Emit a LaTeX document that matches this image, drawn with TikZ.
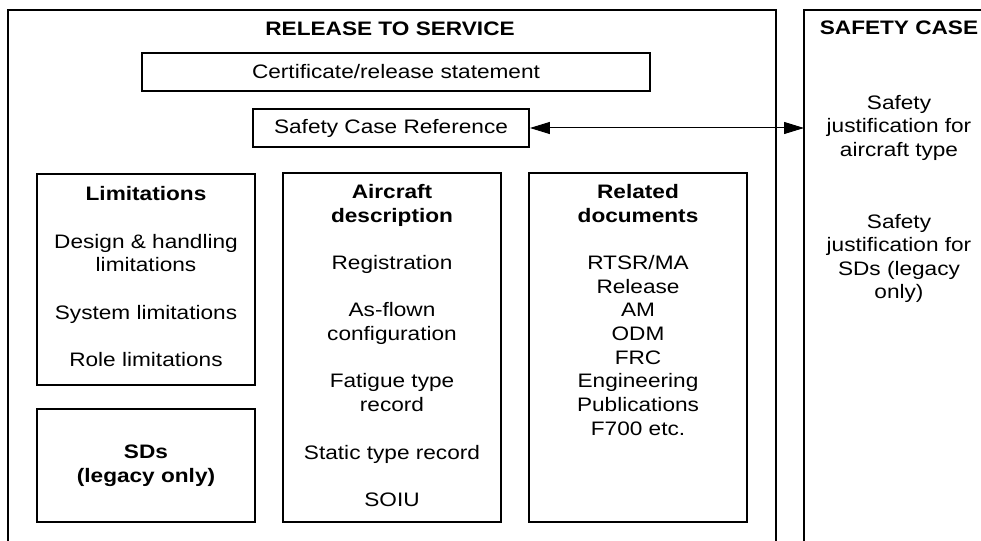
\documentclass[tikz,border=0pt]{standalone}
\usepackage{fontspec}
\setmainfont{Liberation Sans}[FakeStretch=1.16]
\usetikzlibrary{arrows.meta}
\begin{document}
\begin{tikzpicture}[x=1pt,y=-1pt,
  txt/.style={font=\fontsize{19.5}{23.7}\selectfont, align=center, inner sep=0pt},
  head/.style={font=\fontsize{19.5}{23.7}\selectfont\bfseries, inner sep=0pt},
  frame/.style={line width=1.8pt},
  box/.style={draw, line width=1.8pt, inner sep=0pt, rectangle},
  link/.style={line width=1pt, {Triangle[length=20pt,width=12pt]}-{Triangle[length=20pt,width=12pt]}}
]
\useasboundingbox (0,0) rectangle (981,540);

% outer panels, open at the bottom
\draw[frame] (8,548) -- (8,10) -- (776,10) -- (776,548);
\draw[frame] (804,548) -- (804,10) -- (990,10);

\node[head, anchor=base] (rtstitle) at (390,36) {RELEASE TO SERVICE};
\node[head, anchor=base] (sctitle) at (899,34.5) {SAFETY CASE};

% top statement boxes
\node[box, txt, minimum width=508pt, minimum height=37.7pt] (cert) at (396,71.8) {Certificate/release statement};
\node[box, txt, minimum width=276pt, minimum height=37.7pt] (scref) at (391,128) {Safety Case Reference};

% link to the safety case panel
\coordinate (scedge) at (804,128);
\draw[link] (scref.east) -- (scedge);

% limitations
\node[box, minimum width=218pt, minimum height=211pt] (limbox) at (146,279.5) {};
\node[txt, anchor=north] (limtxt) at (146,186.5)
  {\textbf{Limitations}\\[23.7pt]Design \& handling\\limitations\\[23.7pt]System limitations\\[23.7pt]Role limitations};

% SDs
\node[box, minimum width=218pt, minimum height=113pt] (sdbox) at (146,465.5) {};
\node[txt, font=\fontsize{19.5}{24.5}\selectfont\bfseries] (sdtxt) at (146,466) {SDs\\(legacy only)};

% aircraft description
\node[box, minimum width=218pt, minimum height=349pt] (acbox) at (392,347.5) {};
\node[txt, anchor=north] (actxt) at (392,184)
  {\textbf{Aircraft}\\\textbf{description}\\[23.7pt]Registration\\[23.7pt]As-flown\\configuration\\[23.7pt]Fatigue type\\record\\[23.7pt]Static type record\\[23.7pt]SOIU};

% related documents
\node[box, minimum width=218pt, minimum height=349pt] (rdbox) at (638,347.5) {};
\node[txt, anchor=north] (rdtxt) at (638,184)
  {\textbf{Related}\\\textbf{documents}\\[23.7pt]RTSR/MA\\Release\\AM\\ODM\\FRC\\Engineering\\Publications\\F700 etc.};

% safety case contents
\node[txt, anchor=north, font=\fontsize{19.5}{23.5}\selectfont] (sj1) at (899,95)
  {Safety\\justification for\\aircraft type};
\node[txt, anchor=north, font=\fontsize{19.5}{23.5}\selectfont] (sj2) at (899,214)
  {Safety\\justification for\\SDs (legacy\\only)};
\end{tikzpicture}
\end{document}
